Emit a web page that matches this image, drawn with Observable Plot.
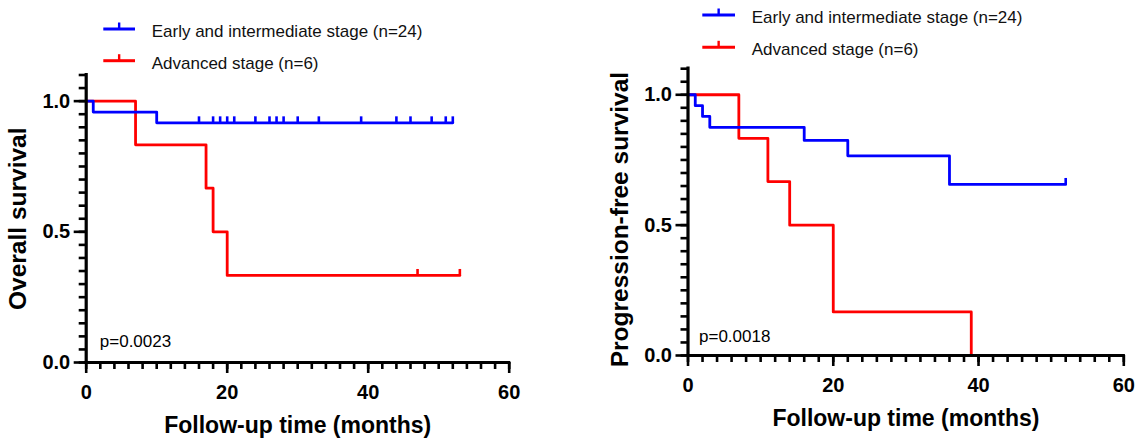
<!DOCTYPE html>
<html>
<head>
<meta charset="utf-8">
<script src="https://cdn.jsdelivr.net/npm/d3@7"></script>
<script src="https://cdn.jsdelivr.net/npm/@observablehq/plot@0.6"></script>
<style>
  html, body { margin: 0; padding: 0; background: #ffffff; }
  #chart { position: relative; width: 1137px; height: 439px; overflow: hidden; background: #ffffff; }
  #chart > svg, #chart > div { position: absolute; top: 0; }
</style>
</head>
<body>
<div id="chart"></div>
<script>
// ---------- data ----------
const seriesNames = ["Early and intermediate stage (n=24)", "Advanced stage (n=6)"];
const seriesColors = ["#0000ff", "#ff0000"];

// Overall survival (left panel)
const osEarlyTime = [0, 1, 10, 52];
const osEarlySurv = [1, 0.958, 0.917, 0.917];
const osEarlyCensor = [16, 18, 19, 20, 21, 24, 26, 27, 28, 30, 33, 39, 44, 46, 49, 51, 52];
const osAdvTime = [0, 7, 17, 18, 20, 53];
const osAdvSurv = [1, 0.833, 0.667, 0.5, 0.333, 0.333];
const osAdvCensor = [47, 53];

// Progression-free survival (right panel)
const pfsEarlyTime = [0, 1, 2, 3, 16, 22, 36, 52];
const pfsEarlySurv = [1, 0.958, 0.917, 0.875, 0.825, 0.766, 0.656, 0.656];
const pfsEarlyCensor = [52];
const pfsAdvTime = [0, 7, 11, 14, 20, 39];
const pfsAdvSurv = [1, 0.833, 0.667, 0.5, 0.167, 0];
const pfsAdvCensor = [];

// axes
const xMajorTicks = [0, 20, 40, 60];
const xMinorTicks = [0, 2, 4, 6, 8, 10, 12, 14, 16, 18, 20, 22, 24, 26, 28, 30, 32, 34, 36, 38, 40, 42, 44, 46, 48, 50, 52, 54, 56, 58, 60];
const yMajorTicks = [0, 0.5, 1.0];
const yMinorTicks = [0, 0.05, 0.1, 0.15, 0.2, 0.25, 0.3, 0.35, 0.4, 0.45, 0.5, 0.55, 0.6, 0.65, 0.7, 0.75, 0.8, 0.85, 0.9, 0.95, 1.0, 1.05, 1.1];
const xTitle = "Follow-up time (months)";
const yTitles = ["Overall survival", "Progression-free survival"];
const pTexts = ["p=0.0023", "p=0.0018"];

// ---------- helpers ----------
const FONT = '"Liberation Sans", Arial, Helvetica, sans-serif';
const rows = (times, surv) => times.map((t, i) => ({t, s: surv[i]}));
function stepAt(times, surv, t) {
  let v = surv[0];
  for (let i = 0; i < times.length; i++) if (times[i] <= t) v = surv[i];
  return v;
}
const censorRows = (times, surv, cens) => cens.map(t => ({t, s: stepAt(times, surv, t)}));
const censorSymbol = {draw(ctx) { ctx.moveTo(0, 0); ctx.lineTo(0, -6.5); }};

function panel(cfg) {
  const marks = [];
  cfg.series.slice().reverse().forEach((sr) => {
    marks.push(Plot.line(rows(sr.time, sr.surv), {x: "t", y: "s", curve: "step-after", stroke: sr.color, strokeWidth: 2.8}));
    marks.push(Plot.dot(censorRows(sr.time, sr.surv, sr.censor), {x: "t", y: "s", symbol: censorSymbol, stroke: sr.color, fill: "none", strokeWidth: 2.6}));
  });
  marks.push(
    Plot.axisY(yMinorTicks, {tickSize: 7, tickFormat: () => "", label: null, strokeWidth: 2.6}),
    Plot.axisY(yMajorTicks, {tickSize: 12, tickPadding: 4, tickFormat: d => d.toFixed(1), label: null, strokeWidth: 2.6, fontSize: 20, fontWeight: "bold"}),
    Plot.axisX(xMinorTicks, {tickSize: 7, tickFormat: () => "", label: null, strokeWidth: 2.6}),
    Plot.axisX(xMajorTicks, {tickSize: 11, tickPadding: 11, tickFormat: d => String(d), label: null, strokeWidth: 2.6, fontSize: 20, fontWeight: "bold"}),
    Plot.ruleX([0], {strokeWidth: 3.2, strokeLinecap: "square"}),
    Plot.ruleY([0], {strokeWidth: 3.2, strokeLinecap: "square"}),
    Plot.text([cfg.p], {text: d => d, frameAnchor: "bottom-left", dx: cfg.pdx, dy: cfg.pdy, textAnchor: "start", lineAnchor: "bottom", fontSize: 17, fontWeight: "normal"}),
    Plot.text([xTitle], {text: d => d, frameAnchor: "bottom", dy: 70, textAnchor: "middle", lineAnchor: "bottom", fontSize: 23, fontWeight: "bold"}),
    Plot.text([cfg.yTitle], {text: d => d, frameAnchor: "left", dx: -68, dy: cfg.ydy, rotate: -90, textAnchor: "middle", lineAnchor: "middle", fontSize: 24.5, fontWeight: "bold"})
  );
  return Plot.plot({
    width: cfg.width, height: 439,
    marginLeft: cfg.ml, marginRight: cfg.mr, marginTop: cfg.mt, marginBottom: cfg.mb,
    x: {domain: [0, 60]},
    y: {domain: [0, 1.1]},
    style: {fontFamily: FONT, background: "transparent", overflow: "visible", color: "#000"},
    marks
  });
}

function legend(lineX, lineY, textX) {
  const svg = d3.create("svg").attr("width", 460).attr("height", 80)
    .style("position", "absolute").style("left", "0px").style("top", "0px").style("overflow", "visible");
  seriesNames.forEach((name, i) => {
    const y = lineY[i];
    svg.append("line").attr("x1", lineX[0]).attr("x2", lineX[1]).attr("y1", y).attr("y2", y)
      .attr("stroke", seriesColors[i]).attr("stroke-width", 3);
    const mx = (lineX[0] + lineX[1]) / 2;
    svg.append("line").attr("x1", mx).attr("x2", mx).attr("y1", y).attr("y2", y - 6.5)
      .attr("stroke", seriesColors[i]).attr("stroke-width", 2.4);
    svg.append("text").attr("x", textX).attr("y", y + 8).attr("font-family", FONT)
      .attr("font-size", 17).attr("fill", "#111").text(name);
  });
  return svg.node();
}

const chart = document.getElementById("chart");

const left = panel({
  width: 560, ml: 85.7, mr: 51.3, mt: 74.5, mb: 77,
  series: [
    {time: osEarlyTime, surv: osEarlySurv, censor: osEarlyCensor, color: seriesColors[0]},
    {time: osAdvTime, surv: osAdvSurv, censor: osAdvCensor, color: seriesColors[1]}
  ],
  p: pTexts[0], pdx: 13.6, pdy: -15.3, yTitle: yTitles[0], ydy: 0
});
left.style.left = "0px";
chart.appendChild(left);

const right = panel({
  width: 577, ml: 127.5, mr: 13.7, mt: 68.2, mb: 84,
  series: [
    {time: pfsEarlyTime, surv: pfsEarlySurv, censor: pfsEarlyCensor, color: seriesColors[0]},
    {time: pfsAdvTime, surv: pfsAdvSurv, censor: pfsAdvCensor, color: seriesColors[1]}
  ],
  p: pTexts[1], pdx: 11, pdy: -13.3, yTitle: yTitles[1], ydy: 7.5
});
right.style.left = "560px";
chart.appendChild(right);

const legL = legend([103.3, 135], [29, 60.7], 151.7);
chart.appendChild(legL);
const legR = legend([702.3, 735], [15, 47.3], 751.7);
chart.appendChild(legR);
</script>
</body>
</html>
